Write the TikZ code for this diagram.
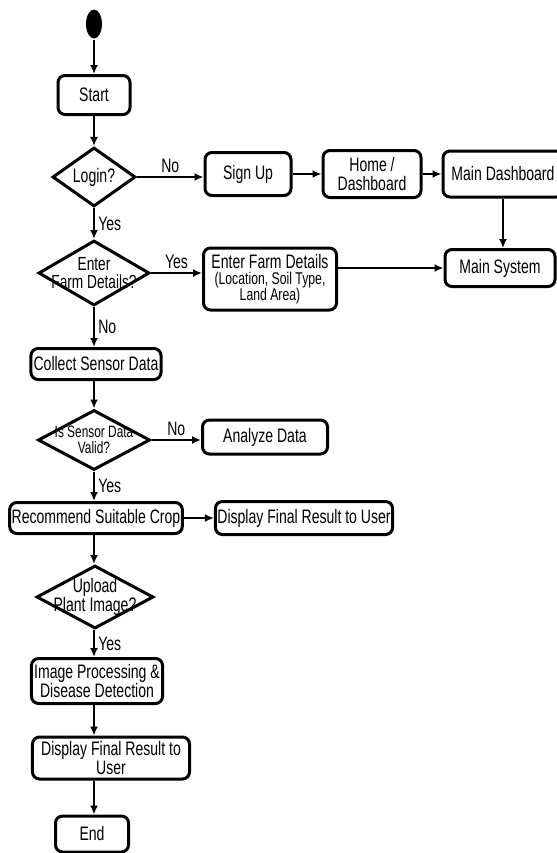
\documentclass[tikz,border=0pt]{standalone}
\usepackage{fontspec}
\setmainfont[FakeStretch=0.72]{Liberation Sans}
\usetikzlibrary{arrows.meta,shapes.geometric}
\newcommand\farmsub{\fontsize{17bp}{15bp}\selectfont}

\begin{document}
\begin{tikzpicture}
[x=1bp, y=-1bp, line width=2.7bp, font=\fontsize{19.5bp}{16bp}\selectfont,
 box/.style={draw, rounded corners=7bp, line width=3bp, align=center, inner sep=2bp},
 decision/.style={draw, diamond, line width=3bp, inner sep=0pt},
 flow/.style={-{Latex[length=9bp,width=8bp]}},
 yn/.style={inner sep=3bp}]
\useasboundingbox (0,0) rectangle (557,853);
\node [ellipse, fill, minimum width=16bp, minimum height=29bp, inner sep=0pt] (init) at (94,24) {};
\node [box, minimum width=72bp, minimum height=39bp] (start) at (94,95) {Start};
\node [decision, minimum width=83bp, minimum height=59bp, label=center:{Login?}] (login) at (94,177) {};
\node [box, minimum width=86bp, minimum height=43bp] (signup) at (248,174) {Sign Up};
\node [box, minimum width=98bp, minimum height=47bp, font=\fontsize{19.5bp}{19bp}\selectfont] (home) at (372,174) {Home /\\Dashboard};
\node [box, minimum width=120bp, minimum height=46bp] (maindash) at (503,174) {Main Dashboard};
\node [decision, minimum width=111bp, minimum height=65bp, label={[align=center, font=\fontsize{19bp}{18.5bp}\selectfont]center:Enter\\Farm Details?}] (farmq) at (94,273) {};
\node [box, minimum width=133bp, minimum height=62bp] (farm) at (270,279) {Enter Farm Details\\\farmsub(Location, Soil Type,\\\farmsub Land Area)};
\node [box, minimum width=110bp, minimum height=37bp] (mainsys) at (500,268) {Main System};
\node [box, minimum width=130bp, minimum height=31bp] (collect) at (96,364) {Collect Sensor Data};
\node [decision, minimum width=112bp, minimum height=60bp, label={[align=center, font=\fontsize{16.5bp}{16.5bp}\selectfont]center:Is Sensor Data\\Valid?}] (validq) at (94,440) {};
\node [box, minimum width=125bp, minimum height=34bp] (analyze) at (265,437) {Analyze Data};
\node [box, minimum width=170bp, minimum height=31bp] (recommend) at (96,518) {Recommend Suitable Crop};
\node [box, minimum width=176bp, minimum height=33bp] (showcrop) at (304,518) {Display Final Result to User};
\node [decision, minimum width=117bp, minimum height=63bp, label={[align=center, font=\fontsize{19.5bp}{18bp}\selectfont]center:Upload\\Plant Image?}] (uploadq) at (95,597) {};
\node [box, minimum width=131bp, minimum height=45bp] (detect) at (97,681) {Image Processing \&\\Disease Detection};
\node [box, minimum width=157bp, minimum height=42bp] (showuser) at (111,758) {Display Final Result to\\User};
\node [box, minimum width=73bp, minimum height=36bp] (end) at (92,834) {End};
\draw [flow] (init) -- (start);
\draw [flow] (start) -- (login);
\draw [flow] (login.east) -- node [above, yn] {No} (login.east -| signup.west);
\draw [flow] (signup) -- (home);
\draw [flow] (home) -- (maindash);
\draw [flow] (maindash) -- (maindash |- mainsys.north);
\draw [flow] (login) -- node [right, yn] {Yes} (farmq);
\draw [flow] (farmq.east) -- node [above, yn] {Yes} (farmq.east -| farm.west);
\draw [flow] (farm.east |- mainsys) -- (mainsys.west);
\draw [flow] (farmq.south) -- node [right, yn] {No} (farmq.south |- collect.north);
\draw [flow] (collect.south -| validq) -- (validq.north);
\draw [flow] (validq.east) -- node [above, yn] {No} (validq.east -| analyze.west);
\draw [flow] (validq.south) -- node [right, yn] {Yes} (validq.south |- recommend.north);
\draw [flow] (recommend) -- (showcrop);
\draw [flow] (recommend.south -| validq) -- (uploadq.north -| validq);
\draw [flow] (uploadq.south -| validq) -- node [right, yn] {Yes} (detect.north -| validq);
\draw [flow] (detect.south -| validq) -- (showuser.north -| validq);
\draw [flow] (showuser.south -| validq) -- (end.north -| validq);
\end{tikzpicture}
\end{document}
